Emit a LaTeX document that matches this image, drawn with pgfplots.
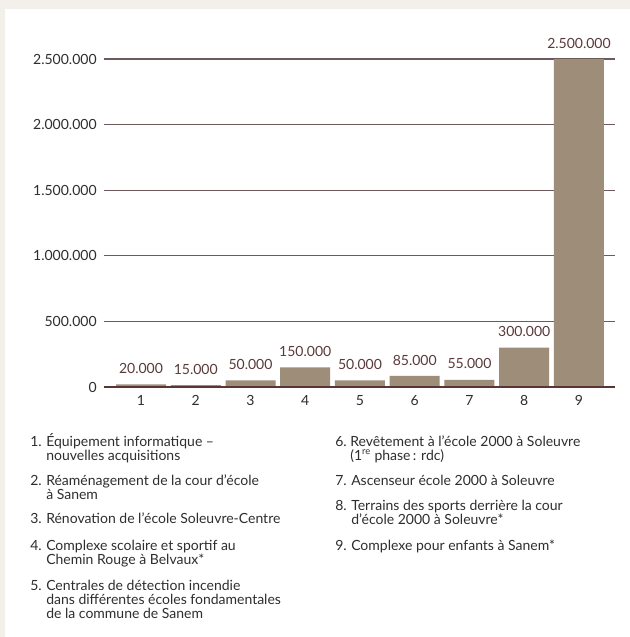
\documentclass[border=0pt]{standalone}
\usepackage{pgfplots}
\pgfplotsset{compat=1.18}
\usepackage{fontspec}
\setmainfont{Lato}
\definecolor{bgc}{HTML}{F3F0EB}
\definecolor{barc}{HTML}{9E8D79}
\definecolor{labc}{HTML}{5A3A3B}
\definecolor{gridc}{HTML}{6E5A5A}
\definecolor{basec}{HTML}{5A3535}
\definecolor{txtc}{HTML}{2E2E2E}
\begin{document}
\begin{tikzpicture}
\fill[bgc] (0pt,0pt) rectangle (472.5pt,-477.75pt);
\fill[white] (3.75pt,-6.75pt) rectangle (472.5pt,-477.75pt);
\begin{axis}[
  at={(78pt,-290.25pt)}, anchor=south west,
  scale only axis, width=383.25pt, height=246pt,
  xmin=0.324, xmax=9.658, ymin=0, ymax=2500000,
  axis line style={draw=none},
  major tick length=0pt,
  xtick={1,...,9},
  ytick={500000,1000000,1500000,2000000,2500000},
  yticklabels={500.000,1.000.000,1.500.000,2.000.000,2.500.000},
  extra y ticks={0}, extra y tick labels={0},
  ymajorgrids, grid style={gridc, line width=0.8pt},
  /pgf/number format/assume math mode=true,
  ticklabel style={font=\fontsize{10.5}{12}\selectfont, text=txtc},
  yticklabel style={xshift=-2pt},
  xticklabel style={yshift=-3pt},
  scaled y ticks=false,
  ybar, bar width=37.5pt,
  nodes near coords, point meta=explicit symbolic,
  every node near coord/.append style={font=\fontsize{10.5}{12}\selectfont, text=labc, yshift=4.5pt},
  clip=false,
]
\addplot[fill=barc, draw=none] coordinates {
  (1,20000) [20.000]
  (2,15000) [15.000]
  (3,50000) [50.000]
  (4,150000) [150.000]
  (5,50000) [50.000]
  (6,85000) [85.000]
  (7,55000) [55.000]
  (8,300000) [300.000]
  (9,2500000) [2.500.000]
};
\draw[basec, line width=1.5pt] (axis cs:0.324,0) -- (axis cs:9.658,0);
\end{axis}
\begin{scope}[x=0.75pt,y=-0.75pt,every node/.style={anchor=base west, inner sep=0pt, font=\fontsize{10.5}{12}\selectfont, text=txtc}]
\node at (30,446) {1.}; \node at (46,446) {Équipement informatique –};
\node at (46,460) {nouvelles acquisitions};
\node at (30,485) {2.}; \node at (46,485) {Réaménagement de la cour d’école};
\node at (46,499) {à Sanem};
\node at (30,523) {3.}; \node at (46,523) {Rénovation de l’école Soleuvre-Centre};
\node at (30,550) {4.}; \node at (46,550) {Complexe scolaire et sportif au};
\node at (46,564) {Chemin Rouge à Belvaux*};
\node at (30,590) {5.}; \node at (46,590) {Centrales de détection incendie};
\node at (46,604) {dans différentes écoles fondamentales};
\node at (46,618) {de la commune de Sanem};
\node at (335,446) {6.}; \node at (350,446) {Revêtement à l’école 2000 à Soleuvre};
\node at (350,460) {(1\textsuperscript{\scriptsize re} phase\,: rdc)};
\node at (335,485) {7.}; \node at (351,485) {Ascenseur école 2000 à Soleuvre};
\node at (335,510) {8.}; \node at (351,510) {Terrains des sports derrière la cour};
\node at (351,524) {d’école 2000 à Soleuvre*};
\node at (335,550) {9.}; \node at (351,550) {Complexe pour enfants à Sanem*};
\end{scope}
\end{tikzpicture}
\end{document}
